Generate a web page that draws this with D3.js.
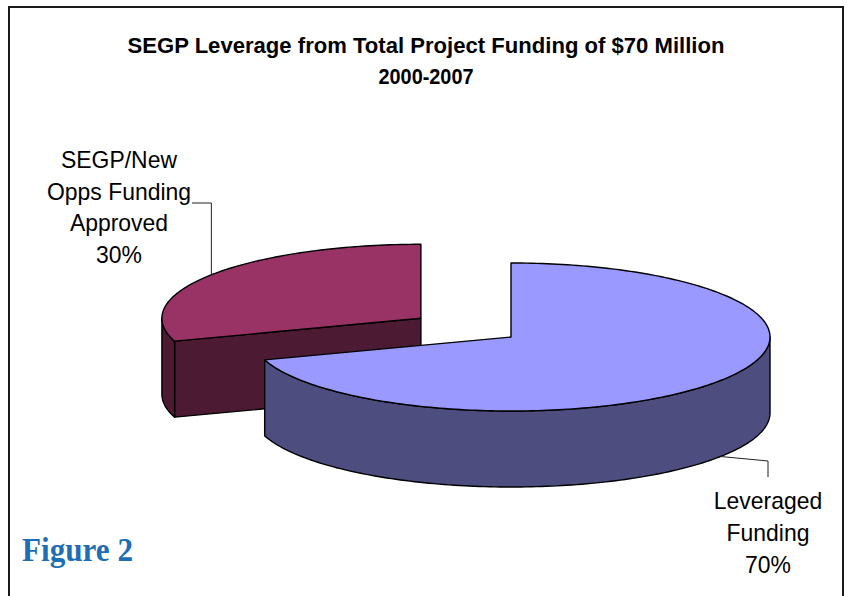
<!DOCTYPE html>
<html>
<head>
<meta charset="utf-8">
<script src="https://cdn.jsdelivr.net/npm/d3@7"></script>
<style>
  html, body { margin: 0; padding: 0; background: #fff; }
  svg { display: block; }
</style>
</head>
<body>
<svg id="chart" width="849" height="596"></svg>
<script>
// ---- data ----
const categories = ["Leveraged Funding", "SEGP/New Opps Funding Approved"];
const values = [70, 30];
const labelLines = [["Leveraged", "Funding", "70%"], ["SEGP/New", "Opps Funding", "Approved", "30%"]];
const titleLines = ["SEGP Leverage from Total Project Funding of $70 Million", "2000-2007"];
const figureLabel = "Figure 2";

// ---- styles / layout ----
const topColors = ["#9999FF", "#993366"];
const sideColors = ["#4D4D80", "#4D1A33"];
const explode = [0, 0.43];
const cx = 511, cy = 337, rx = 259, ry = 74, depth = 76;

const svg = d3.select("#chart");

// frame
svg.append("rect").attr("x", 9).attr("y", 7).attr("width", 834).attr("height", 600)
  .attr("fill", "none").attr("stroke", "#1a1a1a").attr("stroke-width", 2);

// title
const title = svg.append("g").attr("font-family", "Liberation Sans, Arial, sans-serif")
  .attr("font-weight", "bold").attr("font-size", 22.5).attr("fill", "#000").attr("text-anchor", "middle");
const titleLens = [597, 95];
titleLines.forEach((t, i) => {
  title.append("text").attr("x", 426).attr("y", 53 + i * 31).text(t)
    .attr("textLength", titleLens[i]).attr("lengthAdjust", "spacingAndGlyphs");
});

// pie angles (0 = 12 o'clock, clockwise)
const pie = d3.pie().sort(null).startAngle(0).endAngle(2 * Math.PI);
const arcs = pie(values);

const sx = d3.scaleLinear().domain([-1, 1]).range([-rx, rx]);
const sy = d3.scaleLinear().domain([-1, 1]).range([-ry, ry]);

function center(i) {
  const a = (arcs[i].startAngle + arcs[i].endAngle) / 2;
  return [cx + sx(Math.sin(a) * explode[i]), cy - sy(Math.cos(a) * explode[i])];
}
function pt(c, a, dz) {
  return [c[0] + sx(Math.sin(a)), c[1] - sy(Math.cos(a)) + (dz || 0)];
}
function arcPts(c, a0, a1, dz) {
  const n = Math.max(2, Math.ceil(Math.abs(a1 - a0) / 0.02));
  return d3.range(n + 1).map(k => pt(c, a0 + (a1 - a0) * k / n, dz));
}
const line = d3.line();

function topPath(i) {
  const c = center(i);
  return line([c, ...arcPts(c, arcs[i].startAngle, arcs[i].endAngle, 0)]) + "Z";
}
function sidePath(i, a0, a1) {
  const c = center(i);
  const top = arcPts(c, a0, a1, 0);
  const bot = arcPts(c, a1, a0, depth);
  return line([...top, ...bot]) + "Z";
}
function radialPath(i, a) {
  const c = center(i);
  return line([c, pt(c, a, 0), pt(c, a, depth), [c[0], c[1] + depth]]) + "Z";
}

const g = svg.append("g").attr("stroke", "#000").attr("stroke-width", 1.4).attr("stroke-linejoin", "round");

// back slice (maroon) first, then front slice (blue)
[1, 0].forEach(i => {
  const d = arcs[i];
  if (i === 1) g.append("path").attr("d", radialPath(i, d.startAngle)).attr("fill", sideColors[i]);
  const a0 = Math.max(d.startAngle, Math.PI / 2), a1 = Math.min(d.endAngle, 3 * Math.PI / 2);
  if (a1 > a0) g.append("path").attr("d", sidePath(i, a0, a1)).attr("fill", sideColors[i]);
  g.append("path").attr("d", topPath(i)).attr("fill", topColors[i]);
});

// labels and leader lines
const lab = svg.append("g").attr("font-family", "Liberation Sans, Arial, sans-serif")
  .attr("font-size", 24).attr("fill", "#000").attr("text-anchor", "middle");
function addLabel(t, x, y) {
  const el = lab.append("text").attr("x", x).attr("y", y).text(t);
  const w = el.node().getComputedTextLength();
  el.attr("textLength", w * 0.955).attr("lengthAdjust", "spacingAndGlyphs");
}

// SEGP label (slice 1)
{
  const i = 1, c = center(i), a = (arcs[i].startAngle + arcs[i].endAngle) / 2;
  const p = pt(c, a, 0);
  svg.append("path").attr("d", line([[192, 203], [p[0], 203], p]))
    .attr("fill", "none").attr("stroke", "#222").attr("stroke-width", 1);
  labelLines[i].forEach((t, k) => addLabel(t, 119, 168 + k * 31.6));
}
// Leveraged label (slice 0)
{
  const i = 0, c = center(i), a = (arcs[i].startAngle + arcs[i].endAngle) / 2;
  const p = pt(c, a, depth);
  svg.append("path").attr("d", line([p, [768, 461], [768, 477]]))
    .attr("fill", "none").attr("stroke", "#222").attr("stroke-width", 1);
  labelLines[i].forEach((t, k) => addLabel(t, 768, 509 + k * 32));
}

// figure label
svg.append("text").attr("x", 22).attr("y", 561).text(figureLabel)
  .attr("font-family", "Liberation Serif, Times New Roman, serif").attr("font-weight", "bold")
  .attr("font-size", 34).attr("fill", "#1F6DB4")
  .attr("textLength", 111).attr("lengthAdjust", "spacingAndGlyphs");
</script>
</body>
</html>
